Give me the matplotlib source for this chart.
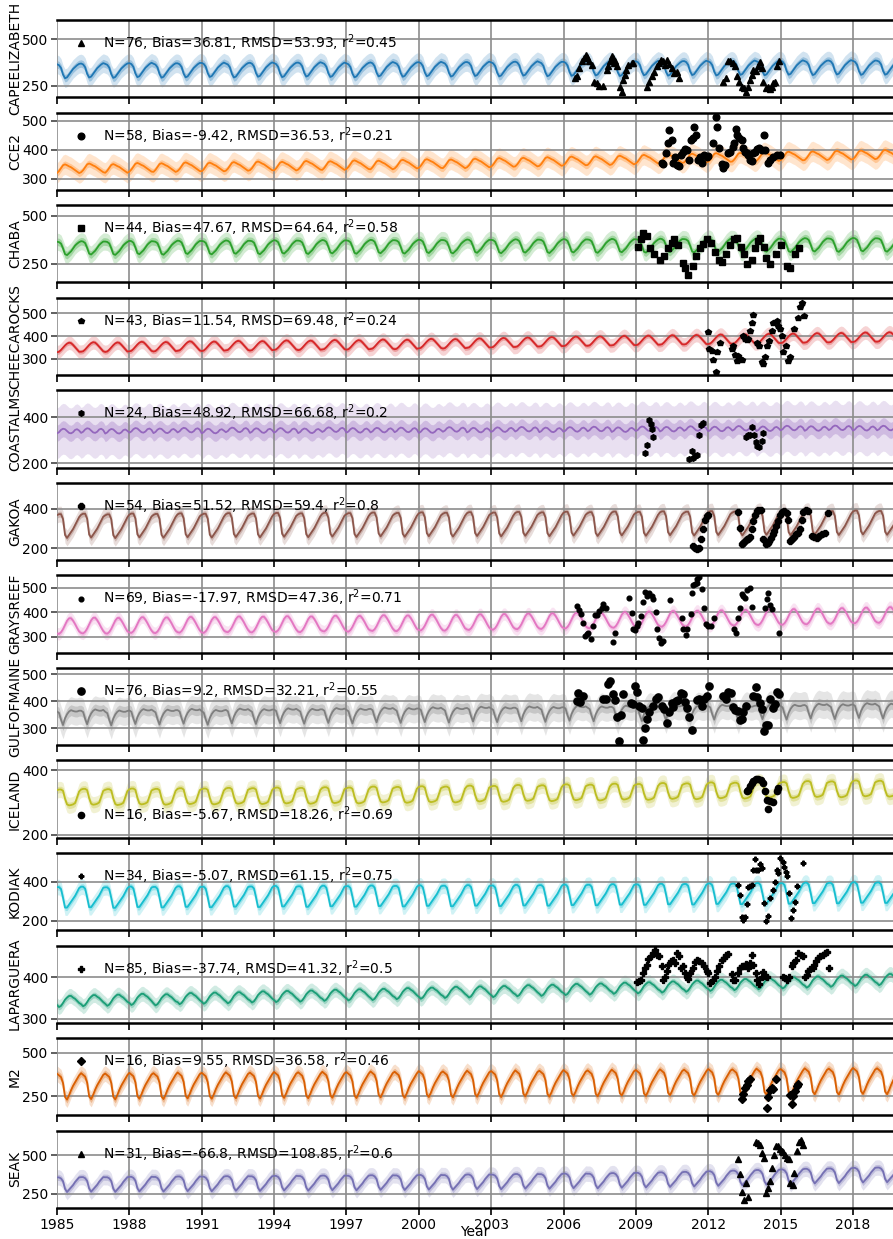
import numpy as np
import matplotlib
matplotlib.use('Agg')
import matplotlib.pyplot as plt

# ---------------- data ----------------
years = list(range(1985, 2020))
tick_years = [1985, 1988, 1991, 1994, 1997, 2000, 2003, 2006, 2009, 2012, 2015, 2018]

station_names = ['CAPEELIZABETH', 'CCE2', 'CHABA', 'CHEECAROCKS', 'COASTALMS', 'GAKOA',
                 'GRAYSREEF', 'GULFOFMAINE', 'ICELAND', 'KODIAK', 'LAPARGUERA', 'M2', 'SEAK']

stats_labels = [
    'N=76, Bias=36.81, RMSD=53.93, r$^2$=0.45',
    'N=58, Bias=-9.42, RMSD=36.53, r$^2$=0.21',
    'N=44, Bias=47.67, RMSD=64.64, r$^2$=0.58',
    'N=43, Bias=11.54, RMSD=69.48, r$^2$=0.24',
    'N=24, Bias=48.92, RMSD=66.68, r$^2$=0.2',
    'N=54, Bias=51.52, RMSD=59.4, r$^2$=0.8',
    'N=69, Bias=-17.97, RMSD=47.36, r$^2$=0.71',
    'N=76, Bias=9.2, RMSD=32.21, r$^2$=0.55',
    'N=16, Bias=-5.67, RMSD=18.26, r$^2$=0.69',
    'N=34, Bias=-5.07, RMSD=61.15, r$^2$=0.75',
    'N=85, Bias=-37.74, RMSD=41.32, r$^2$=0.5',
    'N=16, Bias=9.55, RMSD=36.58, r$^2$=0.46',
    'N=31, Bias=-66.8, RMSD=108.85, r$^2$=0.6',
]

# model annual means (1985..2019)
CE_annual = [336,340,338,342,339,341,343,340,344,342,345,343,341,346,344,347,345,348,346,350,347,349,351,348,352,350,353,351,354,352,355,353,356,354,355]
CCE2_annual = [335,338,336,340,339,342,341,343,345,344,347,346,349,348,351,353,352,355,357,358,360,362,363,365,368,370,372,374,375,377,379,380,382,383,385]
CHABA_annual = [335,338,336,340,337,341,339,342,340,343,341,344,342,345,343,346,344,347,345,348,346,349,347,350,348,351,349,352,350,353,351,354,352,355,353]
CHEECA_annual = [349,351,350,353,352,355,354,357,356,359,358,361,360,363,362,366,365,368,370,372,374,376,377,379,380,382,383,385,386,388,389,391,392,394,395]
COASTAL_annual = [340,342,339,343,341,344,340,345,342,343,341,346,343,344,345,342,347,344,346,348,345,347,349,346,350,348,351,349,352,350,353,351,354,352,353]
GAKOA_annual = [322,324,321,325,323,326,324,327,325,328,326,329,327,330,328,331,329,332,330,333,331,334,332,335,333,336,334,337,335,338,336,339,337,340,338]
GRAYS_annual = [343,345,344,347,346,348,347,350,349,351,350,353,352,355,354,357,356,359,360,362,363,365,366,368,370,372,373,375,377,379,380,382,384,386,388]
GOM_annual = [352,355,351,356,354,357,353,358,356,359,357,360,358,362,360,363,361,365,363,366,364,368,366,369,367,371,369,372,370,374,372,376,374,378,376]
ICELAND_annual = [316,318,317,319,318,320,319,321,320,322,321,323,322,325,324,326,325,328,327,330,329,332,331,334,333,336,335,338,337,340,339,342,341,344,343]
KODIAK_annual = [328,330,327,331,329,332,330,333,331,334,332,335,333,336,334,337,335,338,336,339,338,341,340,343,342,345,344,347,346,349,348,351,350,353,352]
LAPAR_annual = [343,345,346,348,347,350,351,352,354,355,356,358,359,360,362,363,365,366,367,369,370,372,373,375,376,378,380,382,384,386,388,390,392,394,396]
M2_annual = [315,318,316,320,318,322,320,323,321,325,323,326,324,328,326,330,328,332,330,334,332,336,334,338,336,340,338,342,340,344,342,346,344,348,346]
SEAK_annual = [322,324,323,326,325,328,327,330,329,332,331,334,333,336,335,338,337,341,340,344,343,347,346,350,352,355,358,362,366,370,374,378,380,384,386]

# mean seasonal anomaly (Jan..Dec)
CE_clim = [30,25,10,-25,-45,-40,-25,-10,5,15,25,32]
CCE2_clim = [-15,-8,2,12,15,12,8,5,0,-5,-10,-15]
CHABA_clim = [30,28,20,-5,-35,-40,-30,-20,-5,10,20,28]
CHEECA_clim = [-20,-18,-10,0,10,18,22,20,12,2,-8,-18]
COASTAL_clim = [-10,-5,5,10,8,0,-8,-10,-5,5,8,2]
GAKOA_clim = [45,50,50,25,-55,-70,-55,-40,-25,-5,15,35]
GRAYS_clim = [-30,-32,-25,-12,5,22,32,32,22,8,-8,-22]
GOM_clim = [10,5,-20,-40,-15,0,10,15,12,10,10,13]
ICELAND_clim = [22,24,24,20,-5,-22,-25,-24,-22,-18,0,18]
KODIAK_clim = [45,45,35,-10,-60,-60,-45,-30,-15,0,20,40]
LAPAR_clim = [-10,-15,-12,-5,3,8,12,12,8,5,0,-5]
M2_clim = [65,55,45,10,-70,-85,-60,-30,-5,15,35,55]
SEAK_clim = [35,35,28,10,-40,-60,-45,-30,-15,5,20,35]

# spread (half widths) of inner and outer envelopes
inner_width = [20, 12, 20, 10, 35, 15, 10, 20, 10, 15, 7, 20, 20]
outer_width = [50, 35, 45, 30, 110, 40, 25, 50, 25, 40, 18, 45, 50]

# observations [decimal year, value]
CE_obs = [[2006.48,292],[2006.55,304],[2006.66,346],[2006.75,382],[2006.85,400],[2006.93,413],[2006.99,406],
          [2007.07,382],[2007.17,364],[2007.26,273],[2007.38,264],[2007.49,250],[2007.62,250],[2007.79,337],
          [2007.86,355],[2007.93,382],[2008.00,409],[2008.07,400],[2008.09,373],[2008.14,382],[2008.20,355],
          [2008.34,243],[2008.41,219],[2008.48,283],[2008.55,310],[2008.59,337],[2008.69,364],[2008.83,373],
          [2008.90,373],[2009.48,243],[2009.56,273],[2009.66,301],[2009.75,322],[2009.86,355],[2009.96,373],
          [2010.03,391],[2010.11,382],[2010.21,364],[2010.28,391],[2010.39,369],[2010.49,346],[2010.58,319],
          [2010.69,322],[2010.78,292],[2012.63,273],[2012.74,292],[2012.83,382],[2012.90,386],[2013.01,373],
          [2013.11,355],[2013.18,301],[2013.28,273],[2013.39,243],[2013.48,237],[2013.57,219],[2013.66,243],
          [2013.73,283],[2013.80,310],[2013.87,337],[2013.98,328],[2014.08,355],[2014.15,377],[2014.22,346],
          [2014.29,273],[2014.40,237],[2014.49,243],[2014.56,232],[2014.63,246],[2014.70,268],[2014.77,273],
          [2014.84,355],[2014.95,382]]
CCE2_obs = [[2010.07,355],[2010.14,352],[2010.25,389],[2010.35,423],[2010.39,468],[2010.48,434],[2010.55,355],
            [2010.64,377],[2010.72,349],[2010.80,346],[2010.86,383],[2010.94,394],[2011.04,402],[2011.13,400],
            [2011.22,366],[2011.27,434],[2011.36,440],[2011.41,479],[2011.49,451],[2011.59,366],[2011.66,377],
            [2011.73,355],[2011.83,383],[2011.94,377],[2012.00,380],[2012.21,423],[2012.32,515],[2012.38,479],
            [2012.46,406],[2012.56,352],[2012.63,338],[2012.70,349],[2012.83,389],[2012.90,394],[2013.01,411],
            [2013.07,423],[2013.15,473],[2013.21,451],[2013.29,440],[2013.39,434],[2013.46,406],[2013.53,394],
            [2013.59,391],[2013.66,383],[2013.73,366],[2013.80,360],[2013.87,389],[2013.94,394],[2014.04,402],
            [2014.12,406],[2014.22,400],[2014.31,451],[2014.35,400],[2014.49,355],[2014.56,366],[2014.70,377],
            [2014.84,383],[2014.98,383]]
CHABA_obs = [[2009.10,340],[2009.20,380],[2009.30,410],[2009.45,395],[2009.60,330],[2009.75,300],[2010.00,270],
             [2010.15,290],[2010.35,330],[2010.50,360],[2010.60,380],[2010.75,350],[2010.95,255],[2011.05,230],
             [2011.15,190],[2011.35,240],[2011.50,290],[2011.65,330],[2011.80,355],[2011.95,380],[2012.10,360],
             [2012.30,310],[2012.45,270],[2012.55,260],[2012.75,300],[2012.90,350],[2013.05,380],[2013.20,385],
             [2013.35,340],[2013.50,300],[2013.60,250],[2013.80,270],[2013.95,330],[2014.05,370],[2014.15,385],
             [2014.30,340],[2014.40,280],[2014.55,250],[2014.80,300],[2015.00,350],[2015.25,240],[2015.40,230],
             [2015.60,300],[2015.75,330]]
CHEECA_obs = [[2011.98,419],[2012.05,342],[2012.14,335],[2012.21,294],[2012.32,244],[2012.38,328],[2012.49,371],
              [2012.97,342],[2013.04,357],[2013.11,317],[2013.18,291],[2013.25,313],[2013.32,299],[2013.39,294],
              [2013.46,400],[2013.53,386],[2013.59,381],[2013.66,386],[2013.73,422],[2013.80,458],[2013.87,494],
              [2014.04,371],[2014.12,357],[2014.22,284],[2014.29,277],[2014.35,306],[2014.45,357],[2014.53,378],
              [2014.63,422],[2014.70,458],[2014.84,465],[2014.91,443],[2014.98,429],[2015.05,400],[2015.11,332],
              [2015.23,357],[2015.32,291],[2015.39,306],[2015.56,429],[2015.74,480],[2015.81,530],[2015.87,545],
              [2015.97,487]]
COASTAL_obs = [[2009.38,244],[2009.48,279],[2009.56,386],[2009.61,369],[2009.67,349],[2009.72,314],[2011.22,217],
               [2011.31,254],[2011.38,224],[2011.45,231],[2011.55,235],[2011.63,321],[2011.70,367],[2011.77,376],
               [2013.57,314],[2013.66,321],[2013.73,325],[2013.82,356],[2013.90,325],[2013.98,293],[2014.04,275],
               [2014.12,272],[2014.22,296],[2014.29,331]]
GAKOA_obs = [[2011.38,212],[2011.45,203],[2011.52,198],[2011.63,203],[2011.70,248],[2011.80,295],[2011.87,345],
             [2011.94,362],[2012.00,370],[2013.22,383],[2013.32,303],[2013.39,220],[2013.46,228],[2013.53,237],
             [2013.59,245],[2013.66,248],[2013.73,258],[2013.80,295],[2013.87,337],[2013.94,370],[2014.01,387],
             [2014.08,392],[2014.17,392],[2014.29,248],[2014.40,220],[2014.47,228],[2014.53,237],[2014.60,253],
             [2014.67,270],[2014.74,287],[2014.81,312],[2014.91,337],[2014.98,370],[2015.05,383],[2015.14,387],
             [2015.25,378],[2015.32,345],[2015.39,237],[2015.46,245],[2015.56,258],[2015.64,270],[2015.74,278],
             [2015.81,295],[2015.87,345],[2015.94,382],[2016.05,395],[2016.15,387],[2016.29,262],[2016.39,258],
             [2016.50,253],[2016.61,262],[2016.70,270],[2016.84,278],[2016.98,378]]
GRAYS_obs = [[2006.57,424],[2006.66,408],[2006.71,394],[2006.79,354],[2006.89,302],[2006.96,309],[2007.03,313],
             [2007.13,291],[2007.21,345],[2007.31,390],[2007.40,390],[2007.49,404],[2007.58,418],[2007.65,435],
             [2007.76,418],[2008.07,277],[2008.14,315],[2008.73,458],[2008.83,397],[2008.90,332],[2008.96,326],
             [2009.03,343],[2009.10,354],[2009.20,384],[2009.31,441],[2009.38,482],[2009.48,465],[2009.56,476],
             [2009.66,465],[2009.72,454],[2009.84,400],[2009.89,332],[2009.97,295],[2010.03,275],[2010.11,282],
             [2010.42,449],[2010.90,377],[2010.97,332],[2011.08,305],[2011.13,332],[2011.27,394],[2011.31,479],
             [2011.38,509],[2011.45,513],[2011.52,520],[2011.55,536],[2011.63,544],[2011.73,495],[2011.83,418],
             [2011.91,350],[2012.00,343],[2012.10,345],[2012.24,377],[2013.07,332],[2013.15,315],[2013.25,377],
             [2013.32,418],[2013.39,472],[2013.46,465],[2013.53,458],[2013.59,492],[2013.73,499],[2013.80,420],
             [2014.35,418],[2014.42,452],[2014.49,479],[2014.56,431],[2014.63,414],[2014.95,315]]
GOM_obs = [[2006.55,400],[2006.62,431],[2006.68,396],[2006.79,421],[2007.65,409],[2007.76,409],[2007.86,465],
           [2007.93,473],[2008.04,428],[2008.14,406],[2008.20,343],[2008.32,254],[2008.37,351],[2008.48,425],
           [2008.79,394],[2008.90,388],[2008.96,455],[2009.03,433],[2009.14,382],[2009.24,376],[2009.31,257],
           [2009.38,303],[2009.48,333],[2009.56,360],[2009.72,382],[2009.84,409],[2009.93,416],[2010.07,382],
           [2010.17,372],[2010.28,318],[2010.39,360],[2010.49,394],[2010.55,379],[2010.66,400],[2010.76,406],
           [2010.86,431],[2010.94,425],[2011.04,396],[2011.13,376],[2011.22,343],[2011.31,294],[2011.55,406],
           [2011.63,409],[2011.73,384],[2011.83,409],[2011.94,421],[2012.05,457],[2012.63,418],[2012.74,409],
           [2012.83,433],[2012.93,431],[2013.04,379],[2013.11,367],[2013.22,364],[2013.32,331],[2013.39,333],
           [2013.46,360],[2013.57,384],[2013.87,418],[2013.98,453],[2014.04,416],[2014.15,392],[2014.22,372],
           [2014.31,290],[2014.40,311],[2014.49,311],[2014.56,409],[2014.70,376],[2014.77,388],[2014.87,433],
           [2014.95,428]]
ICELAND_obs = [[2013.59,335],[2013.66,340],[2013.73,350],[2013.80,359],[2013.87,366],[2013.98,373],[2014.08,373],
               [2014.17,369],[2014.26,361],[2014.35,335],[2014.42,309],[2014.49,280],[2014.56,304],[2014.67,301],
               [2014.84,335],[2014.91,345]]
KODIAK_obs = [[2013.25,383],[2013.32,332],[2013.39,221],[2013.46,207],[2013.53,221],[2013.59,289],[2013.66,375],
              [2013.73,378],[2013.80,383],[2013.87,460],[2013.94,515],[2013.98,460],[2014.08,460],[2014.15,491],
              [2014.22,469],[2014.31,292],[2014.40,200],[2014.49,224],[2014.56,315],[2014.67,357],[2014.77,400],
              [2014.84,460],[2014.91,443],[2014.98,520],[2015.09,503],[2015.14,477],[2015.23,451],[2015.28,429],
              [2015.36,344],[2015.42,217],[2015.50,255],[2015.60,298],[2015.69,378],[2015.94,494]]
LAPAR_obs = [[2009.06,388],[2009.14,390],[2009.23,394],[2009.31,411],[2009.38,423],[2009.45,431],[2009.52,444],
             [2009.61,451],[2009.72,459],[2009.79,467],[2009.89,455],[2009.97,451],[2010.07,427],[2010.11,394],
             [2010.21,402],[2010.28,415],[2010.35,431],[2010.44,439],[2010.53,441],[2010.62,435],[2010.72,459],
             [2010.78,451],[2010.86,423],[2010.94,427],[2011.04,411],[2011.11,402],[2011.18,396],[2011.25,411],
             [2011.36,423],[2011.45,436],[2011.55,441],[2011.63,439],[2011.73,435],[2011.83,427],[2011.94,415],
             [2012.00,411],[2012.07,386],[2012.18,394],[2012.28,402],[2012.35,415],[2012.46,428],[2012.56,443],
             [2012.65,447],[2012.74,453],[2012.83,457],[2012.97,407],[2013.04,394],[2013.11,393],[2013.25,411],
             [2013.32,423],[2013.39,427],[2013.48,428],[2013.57,433],[2013.66,423],[2013.73,435],[2013.80,453],
             [2013.87,431],[2013.98,411],[2014.04,394],[2014.12,385],[2014.22,402],[2014.29,412],[2014.35,404],
             [2014.42,402],[2015.09,402],[2015.18,398],[2015.28,394],[2015.36,402],[2015.46,427],[2015.53,435],
             [2015.64,443],[2015.74,459],[2015.84,455],[2015.92,451],[2016.01,402],[2016.08,406],[2016.15,415],
             [2016.22,419],[2016.33,423],[2016.39,431],[2016.47,439],[2016.57,447],[2016.63,451],[2016.74,455],
             [2016.84,459],[2016.91,461],[2017.02,423]]
M2_obs = [[2013.39,235],[2013.46,260],[2013.53,298],[2013.59,317],[2013.66,336],[2013.73,349],[2014.42,183],
          [2014.49,246],[2014.56,288],[2014.63,298],[2014.70,292],[2014.81,349],[2015.39,254],[2015.46,202],
          [2015.53,250],[2015.60,279],[2015.67,307],[2015.74,323]]
SEAK_obs = [[2013.25,479],[2013.31,381],[2013.42,265],[2013.48,211],[2013.56,320],[2013.66,229],[2013.98,585],
            [2014.07,581],[2014.14,570],[2014.24,516],[2014.31,483],[2014.39,255],[2014.46,287],[2014.56,335],
            [2014.65,418],[2014.72,505],[2014.81,563],[2014.90,559],[2014.97,541],[2015.04,526],[2015.11,520],
            [2015.18,505],[2015.25,483],[2015.33,476],[2015.41,320],[2015.50,305],[2015.57,385],[2015.66,526],
            [2015.75,585],[2015.84,598],[2015.94,570]]

# ---------------- styling tables built from the data ----------------
annuals = [CE_annual, CCE2_annual, CHABA_annual, CHEECA_annual, COASTAL_annual, GAKOA_annual,
           GRAYS_annual, GOM_annual, ICELAND_annual, KODIAK_annual, LAPAR_annual, M2_annual, SEAK_annual]
climes = [CE_clim, CCE2_clim, CHABA_clim, CHEECA_clim, COASTAL_clim, GAKOA_clim,
          GRAYS_clim, GOM_clim, ICELAND_clim, KODIAK_clim, LAPAR_clim, M2_clim, SEAK_clim]
observations = [CE_obs, CCE2_obs, CHABA_obs, CHEECA_obs, COASTAL_obs, GAKOA_obs,
                GRAYS_obs, GOM_obs, ICELAND_obs, KODIAK_obs, LAPAR_obs, M2_obs, SEAK_obs]

colors = ['#1f77b4', '#ff7f0e', '#2ca02c', '#d62728', '#9467bd', '#8c564b', '#e377c2',
          '#7f7f7f', '#bcbd22', '#17becf', '#1b9e77', '#d95f02', '#7570b3']
markers = ['^', 'o', 's', 'p', 'h', '8', 'o', 'o', 'o', 'P', 'P', 'D', '^']
msizes = [4.8, 4.8, 4.3, 3.8, 4.0, 4.3, 3.4, 5.2, 4.5, 3.4, 4.8, 4.5, 4.8]
ylims = [(189, 603), (262, 529), (152, 557), (229, 569), (182, 517), (141, 530), (235, 550),
         (238, 523), (191, 430), (152, 548), (290, 477), (139, 586), (159, 661)]
yticks = [[250, 500], [300, 400, 500], [250, 500], [300, 400, 500], [200, 400], [200, 400],
          [300, 400, 500], [300, 400, 500], [200, 400], [200, 400], [300, 400], [250, 500], [250, 500]]
legend_loc = ['upper left'] * 8 + ['lower left'] + ['upper left'] * 4

# ---------------- figure ----------------
W, H = 893, 1239
fig = plt.figure(figsize=(W / 100, H / 100), dpi=100)

t = np.array([y + m / 12.0 for y in years for m in range(12)])
left = 57 / W
width = 1.0 - left

for i, name in enumerate(station_names):
    top_px = 20 + i * 92.55
    h_px = 77.3
    ax = fig.add_axes([left, 1 - (top_px + h_px) / H, width, h_px / H])
    model = np.repeat(annuals[i], 12) + np.tile(climes[i], len(years))
    c = colors[i]
    ax.fill_between(t, model - outer_width[i], model + outer_width[i], color=c, alpha=0.2, lw=0)
    ax.fill_between(t, model - inner_width[i], model + inner_width[i], color=c, alpha=0.3, lw=0)
    ax.plot(t, model, color=c, lw=1.3)

    obs = np.array(observations[i], dtype=float)
    ax.plot(obs[:, 0], obs[:, 1], ls='none', marker=markers[i], ms=msizes[i],
            color='black', mec='black', label=stats_labels[i])
    ax.legend(loc=legend_loc[i], frameon=False, fontsize=10, numpoints=1,
              handlelength=1.6, borderaxespad=0.5)

    ax.set_xlim(1985, 2019.66)
    ax.set_ylim(*ylims[i])
    ax.set_yticks(yticks[i])
    ax.set_xticks(tick_years)
    ax.grid(True, color='#8c8c8c', lw=1.2)
    for s in ['left', 'right']:
        ax.spines[s].set_visible(False)
    for s in ['top', 'bottom']:
        ax.spines[s].set_linewidth(1.8)
        ax.spines[s].set_color('black')
    ax.tick_params(axis='x', direction='out', length=5, width=1.2, color='black', pad=2)
    ax.tick_params(axis='y', direction='out', length=4, width=1.2, color='#444444', pad=2)
    ax.tick_params(labelsize=10)
    ax.set_ylabel(name, fontsize=10)
    ax.yaxis.set_label_coords(-0.042, 0.5)
    if i < len(station_names) - 1:
        ax.set_xticklabels([])
    else:
        ax.set_xticklabels([str(y) for y in tick_years])

fig.text(475 / W, 1 - 1232 / H, 'Year', ha='center', va='center', fontsize=10)

fig.savefig('out.png', dpi=100)
